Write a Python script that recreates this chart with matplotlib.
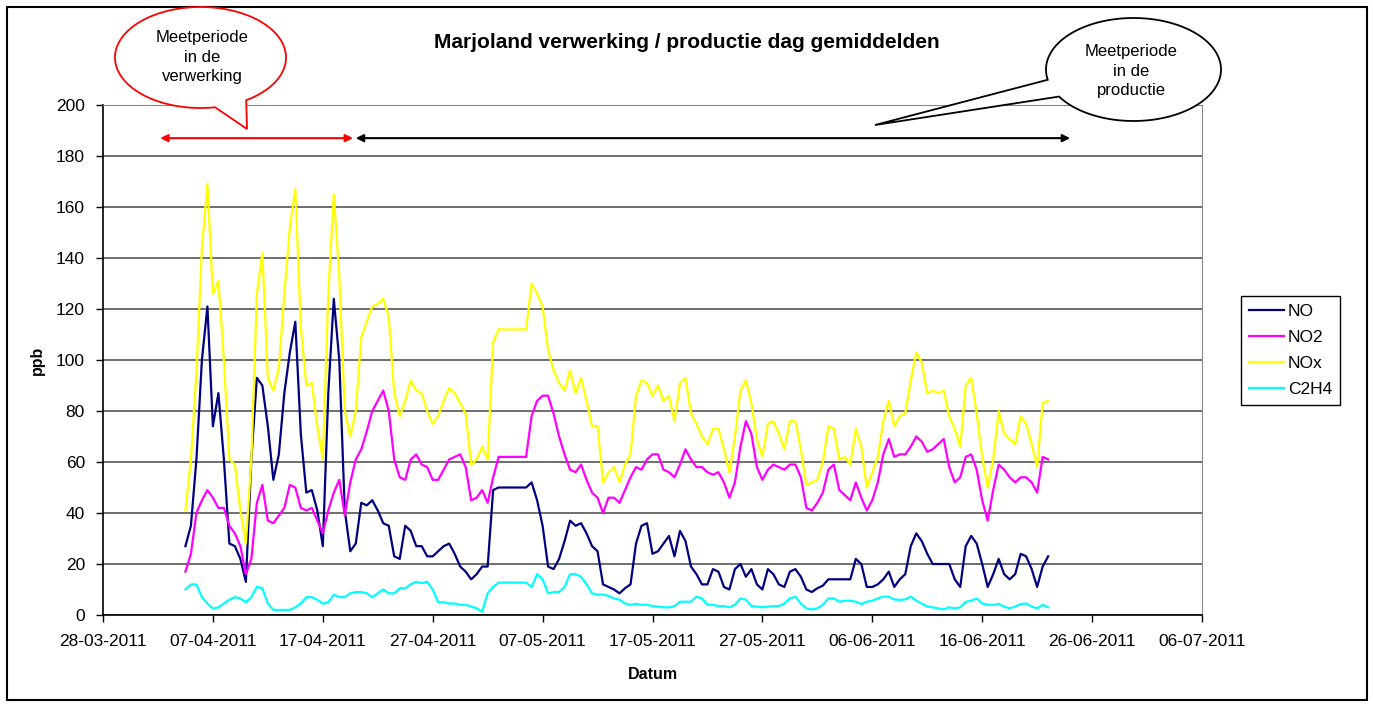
import numpy as np
import pandas as pd
import matplotlib
matplotlib.use("Agg")
import matplotlib.pyplot as plt
import matplotlib.dates as mdates
from matplotlib.patches import Polygon, Rectangle

plt.rcParams['font.family'] = ['Liberation Sans', 'DejaVu Sans']

# half-daily values (ppb)
tijd = pd.date_range('2011-04-04 12:00', periods=158, freq='12h')

no = [27, 35, 61, 100, 121, 74, 87, 61, 28, 27,
      22, 13, 61, 93, 90, 74, 53, 63, 87, 103,
      115, 71, 48, 49, 41, 27, 87, 124, 100, 41,
      25, 28, 44, 43, 45, 41, 36, 35, 23, 22,
      35, 33, 27, 27, 23, 23, 25, 27, 28, 24,
      19, 17, 14, 16, 19, 19, 49, 50, 50, 50,
      50, 50, 50, 52, 45, 35, 19, 18, 22, 29,
      37, 35, 36, 32, 27, 25, 12, 11, 10, 8.5,
      10.5, 12, 28, 35, 36, 24, 25, 28, 31, 23,
      33, 29, 19, 16, 12, 12, 18, 17, 11, 10,
      18, 20, 15, 18, 12, 10, 18, 16, 12, 11,
      17, 18, 15, 10, 9, 10.5, 11.5, 14, 14, 14,
      14, 14, 22, 20, 11, 11, 12, 14, 17, 11,
      14, 16, 27, 32, 29, 24, 20, 20, 20, 20,
      14, 11, 27, 31, 28, 20, 11, 16, 22, 16,
      14, 16, 24, 23, 18, 11, 19, 23]

no2 = [17, 24, 40, 45, 49, 46, 42, 42, 35, 32,
       27, 16, 22, 44, 51, 37, 36, 39, 42, 51,
       50, 42, 41, 42, 37, 32, 41, 48, 53, 39,
       52, 61, 65, 72, 80, 84, 88, 80, 61, 54,
       53, 61, 63, 59, 58, 53, 53, 57, 61, 62,
       63, 58, 45, 46, 49, 44, 54, 62, 62, 62,
       62, 62, 62, 78, 84, 86, 86, 79, 70, 63,
       57, 56, 59, 53, 48, 46, 40, 46, 46, 44,
       49, 54, 58, 57, 61, 63, 63, 57, 56, 54,
       59, 65, 61, 58, 58, 56, 55, 56, 52, 46,
       52, 66, 76, 71, 58, 53, 57, 59, 58, 57,
       59, 59, 54, 42, 41, 44, 48, 57, 59, 49,
       47, 45, 52, 46, 41, 45, 52, 63, 69, 62,
       63, 63, 66, 70, 68, 64, 65, 67, 69, 58,
       52, 54, 62, 63, 57, 45, 37, 49, 59, 57,
       54, 52, 54, 54, 52, 48, 62, 61]

nox = [41, 61, 95, 144, 169, 126, 131, 100, 61, 59,
       41, 28, 61, 126, 142, 93, 88, 97, 126, 152,
       167, 113, 90, 91, 74, 61, 126, 165, 133, 80,
       70, 80, 109, 115, 121, 122, 124, 117, 87, 78,
       84, 92, 88, 87, 80, 75, 78, 84, 89, 87,
       83, 79, 59, 61, 66, 61, 107, 112, 112, 112,
       112, 112, 112, 130, 126, 121, 104, 96, 91, 88,
       96, 87, 93, 84, 74, 74, 52, 56, 58, 52,
       59, 63, 86, 92, 91, 86, 90, 84, 86, 76,
       91, 93, 79, 75, 70, 67, 73, 73, 65, 56,
       70, 88, 92, 83, 69, 62, 75, 76, 71, 65,
       76, 76, 65, 51, 52, 53, 60, 74, 73, 61,
       62, 59, 73, 66, 50, 56, 62, 76, 84, 74,
       78, 79, 92, 103, 99, 87, 88, 87, 88, 78,
       73, 66, 90, 93, 79, 62, 50, 61, 80, 71,
       69, 67, 78, 75, 67, 58, 83, 84]

c2h4 = [10, 12, 12, 7, 4.5, 2.5, 3, 4.5, 6, 7,
        6.5, 5, 7, 11, 10.5, 4.5, 2, 2, 2, 2,
        3, 4.5, 7, 7, 6, 4.5, 5, 8, 7, 7,
        8.5, 9, 9, 8.5, 7, 8.5, 10, 8.5, 8.5, 10.5,
        10.5, 12, 13, 12.5, 13, 10, 5, 5, 4.5, 4.5,
        4, 4, 3.3, 2.6, 1.3, 8.5, 11, 12.7, 12.7, 12.7,
        12.7, 12.7, 12.7, 11, 16, 14, 8.5, 9, 9, 11,
        16, 16, 15, 12, 8.5, 8, 8, 7.5, 6.5, 6,
        4.5, 4, 4.3, 4, 4, 3.5, 3.3, 3, 3, 3.5,
        5.2, 5.2, 5.2, 7.2, 6.5, 4, 4, 3.5, 3.5, 3,
        4, 6.5, 6, 3.5, 3.3, 3, 3.3, 3.5, 3.5, 4.5,
        6.5, 7.2, 4.5, 2.6, 2.2, 2.6, 4, 6.5, 6.5, 5.2,
        5.6, 5.6, 5.2, 4.3, 5.2, 5.6, 6.5, 7.2, 7.2, 6.1,
        5.9, 6.1, 7.2, 5.6, 4.5, 3.3, 3, 2.6, 2.2, 3,
        2.6, 3, 5.2, 5.6, 6.5, 4.5, 4, 4, 4.3, 3.3,
        2.6, 3.3, 4.3, 4.5, 3.3, 2.6, 4, 3]

reeksen = ['NO', 'NO2', 'NOx', 'C2H4']
kleuren = ['#000080', '#FF00FF', '#FFFF00', '#00FFFF']

# measuring periods (arrows)
verwerking = ('2011-04-02 05:00', '2011-04-19 18:00')
productie = ('2011-04-20 00:00', '2011-06-24 00:00')

W, H = 1373, 704
fig = plt.figure(figsize=(W / 100, H / 100), dpi=100)
ax = fig.add_axes([103 / W, 1 - 615 / H, 1099 / W, 510 / H])

for naam, waarden, kleur in zip(reeksen, [no, no2, nox, c2h4], kleuren):
    ax.plot(tijd, waarden, color=kleur, lw=1.6, label=naam)

ax.set_xlim(pd.Timestamp('2011-03-28'), pd.Timestamp('2011-07-06'))
ax.set_ylim(0, 200)
ax.set_yticks(range(0, 201, 20))
ax.set_xticks(pd.date_range('2011-03-28', '2011-07-06', freq='10D'))
ax.xaxis.set_major_formatter(mdates.DateFormatter('%d-%m-%Y'))
ax.tick_params(axis='both', labelsize=12.5, direction='out', length=5, width=1)
ax.tick_params(axis='x', pad=9)
ax.tick_params(axis='y', pad=8)
ax.yaxis.grid(True, color='#555555', lw=1.2)
ax.set_axisbelow(True)
ax.spines['top'].set_color('#888888')
ax.spines['right'].set_color('#888888')
ax.spines['left'].set_linewidth(1.2)
ax.spines['bottom'].set_linewidth(1.2)

ax.set_ylabel('ppb', fontsize=11.5, fontweight='bold', labelpad=8)
ax.set_xlabel('Datum', fontsize=11.5, fontweight='bold', labelpad=12.5)

# period arrows
ax.annotate('', xy=(pd.Timestamp(verwerking[1]), 187), xytext=(pd.Timestamp(verwerking[0]), 187),
            arrowprops=dict(arrowstyle='<|-|>', color='red', lw=1.5, mutation_scale=11,
                            shrinkA=0, shrinkB=0))
ax.annotate('', xy=(pd.Timestamp(productie[1]), 187), xytext=(pd.Timestamp(productie[0]), 187),
            arrowprops=dict(arrowstyle='<|-|>', color='black', lw=1.5, mutation_scale=11,
                            shrinkA=0, shrinkB=0))

ax.legend(loc='upper left', bbox_to_anchor=(1241 / W, 1 - 296 / H), bbox_transform=fig.transFigure,
          fontsize=12.5, frameon=True, fancybox=False, edgecolor='black', framealpha=1,
          borderaxespad=0, handlelength=2.0, handletextpad=0.25, labelspacing=0.62, borderpad=0.45)

fig.text(687 / W, 1 - 43 / H, 'Marjoland verwerking / productie dag gemiddelden',
         ha='center', va='center', fontsize=15, fontweight='bold')

# speech bubbles, drawn in pixel space on an overlay
ov = fig.add_axes([0, 0, 1, 1], zorder=5)
ov.set_xlim(0, W)
ov.set_ylim(H, 0)
ov.axis('off')
ov.patch.set_visible(False)


def bubble(cx, cy, a, b, t1, t2, tip, kleur):
    hoek = np.radians(np.linspace(t1, t2, 200))
    pts = np.column_stack([cx + a * np.cos(hoek), cy + b * np.sin(hoek)])
    pts = np.vstack([pts, tip])
    ov.add_patch(Polygon(pts, closed=True, facecolor='white', edgecolor=kleur, lw=1.3))


bubble(200.5, 57.5, 85.5, 50.5, 80.2, 417.7, (247, 129), 'red')
ov.text(202, 57, 'Meetperiode\nin de\nverwerking', ha='center', va='center',
        fontsize=12, linespacing=1.4)
bubble(1133.5, 69.5, 87.5, 51.5, 168.5, 508.3, (875, 125), 'black')
ov.text(1131, 71, 'Meetperiode\nin de\nproductie', ha='center', va='center',
        fontsize=12, linespacing=1.4)

# outer frame
fig.patches.append(Rectangle((7 / W, 1 - 700 / H), 1360 / W, 693 / H, transform=fig.transFigure,
                             fill=False, edgecolor='black', lw=1.5))

fig.savefig('out.png', dpi=100)
